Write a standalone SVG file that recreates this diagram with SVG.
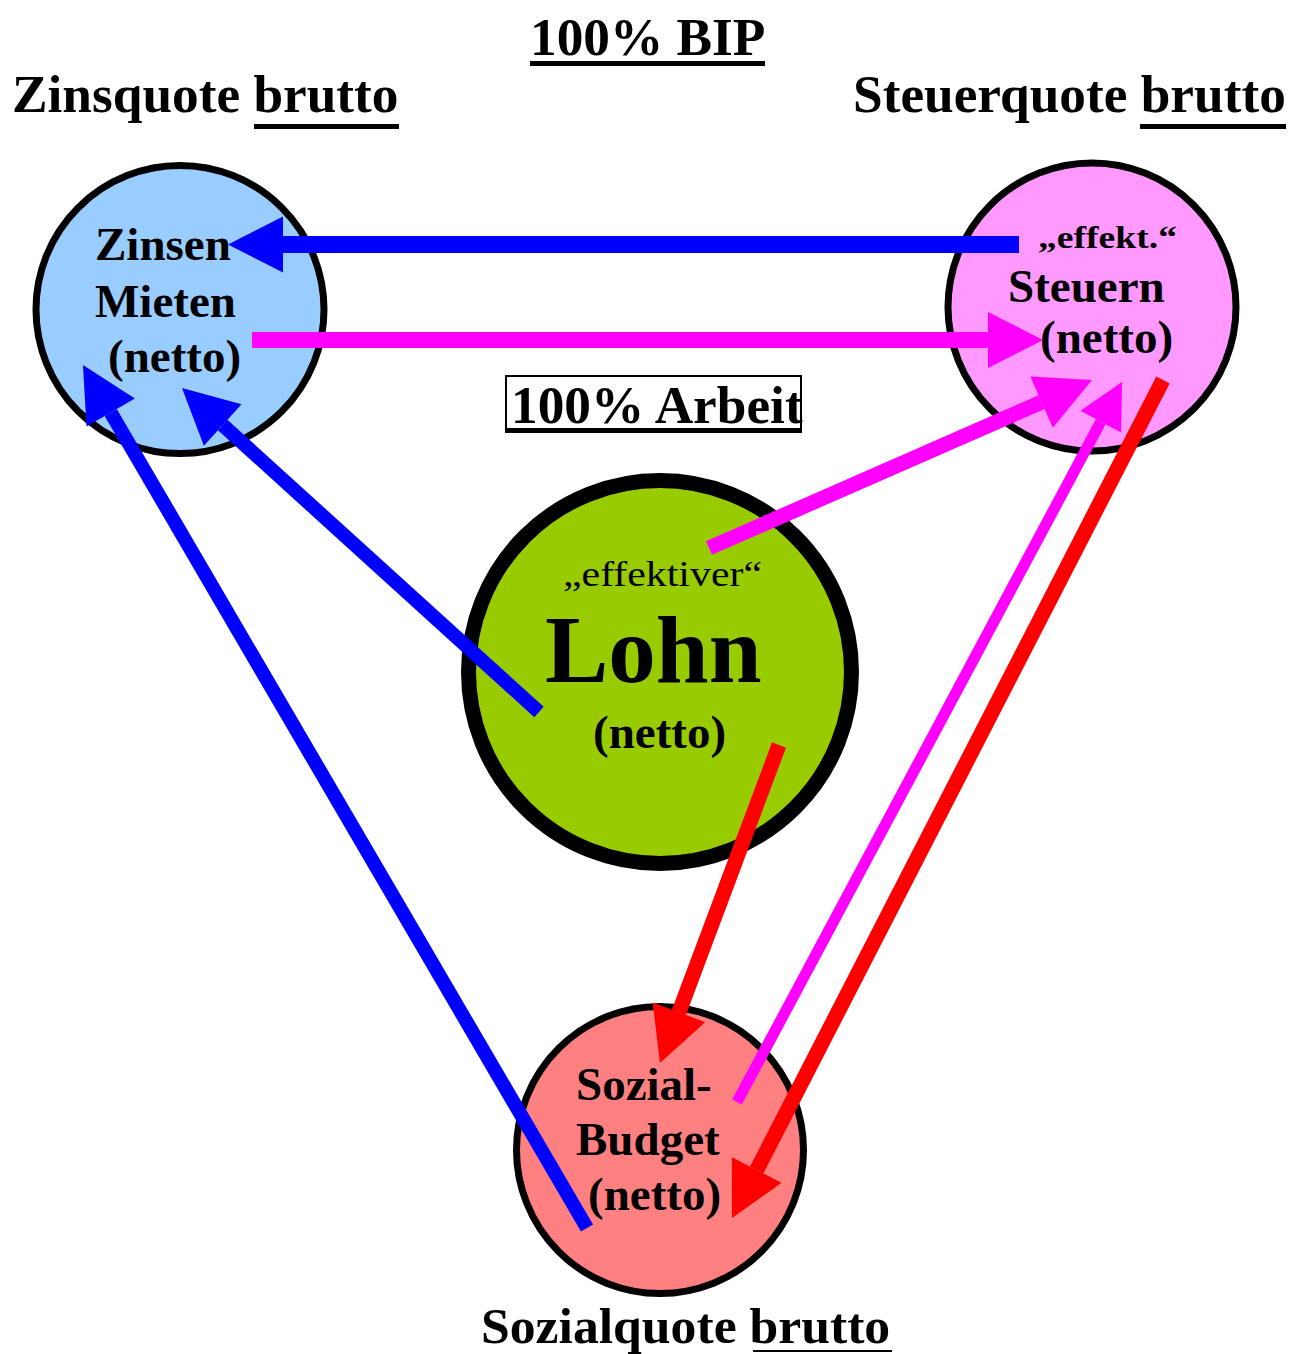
<svg xmlns="http://www.w3.org/2000/svg" width="1290" height="1354" viewBox="0 0 1290 1354">
<style>
  text { font-family: "Liberation Serif", "Times New Roman", serif; font-weight: bold; fill: #000; }
  .title { font-size: 53.3px; }
  .lbl { font-size: 47px; }
  .node { stroke: #000; stroke-width: 7; }
  .ul { fill: #000; }
  .cb { stroke: #0000FF; fill: none; }
  .cm { stroke: #FF00FF; fill: none; }
  .cr { stroke: #FF0000; fill: none; }
</style>
<defs>
  <marker id="hb" markerUnits="userSpaceOnUse" markerWidth="56" markerHeight="56" refX="0" refY="28" orient="auto" overflow="visible">
    <path d="M0,0 L55,28 L0,56 z" fill="#0000FF"/>
  </marker>
  <marker id="hm" markerUnits="userSpaceOnUse" markerWidth="56" markerHeight="56" refX="0" refY="28" orient="auto" overflow="visible">
    <path d="M0,0 L55,28 L0,56 z" fill="#FF00FF"/>
  </marker>
  <marker id="hms" markerUnits="userSpaceOnUse" markerWidth="46" markerHeight="46" refX="0" refY="23" orient="auto" overflow="visible">
    <path d="M0,0 L45,23 L0,46 z" fill="#FF00FF"/>
  </marker>
  <marker id="hr" markerUnits="userSpaceOnUse" markerWidth="56" markerHeight="56" refX="0" refY="28" orient="auto" overflow="visible">
    <path d="M0,0 L54,28 L0,56 z" fill="#FF0000"/>
  </marker>
</defs>
<rect x="0" y="0" width="1290" height="1354" fill="#FFFFFF"/>

<g id="titles">
  <text class="title" x="530" y="55">100% BIP</text>
  <rect class="ul" x="530" y="61" width="235" height="5"/>
  <text class="title" x="12" y="112">Zinsquote brutto</text>
  <rect class="ul" x="254" y="124" width="145" height="5"/>
  <text class="title" x="853" y="112">Steuerquote brutto</text>
  <rect class="ul" x="1140" y="124" width="146" height="5"/>
  <text class="title" x="481" y="1343" style="font-size:51.7px">Sozialquote brutto</text>
  <rect class="ul" x="753" y="1350" width="139" height="2"/>
</g>

<g id="arbeit">
  <rect x="506" y="376" width="295" height="54" fill="none" stroke="#000" stroke-width="2"/>
  <rect class="ul" x="505" y="428" width="297" height="5"/>
  <text class="title" x="511" y="423">100% Arbeit</text>
</g>

<g id="node-zinsen">
  <circle class="node" cx="180" cy="309.5" r="144" fill="#99CCFF"/>
  <text class="lbl" x="95" y="260">Zinsen</text>
  <text class="lbl" x="95" y="317">Mieten</text>
  <text class="lbl" x="108" y="372">(netto)</text>
</g>

<g id="node-steuern">
  <circle class="node" cx="1092" cy="307" r="144" fill="#FF99FF"/>
  <text x="1038" y="248" style="font-size:31px" textLength="139" lengthAdjust="spacingAndGlyphs">„effekt.“</text>
  <text class="lbl" x="1008" y="302">Steuern</text>
  <text class="lbl" x="1040" y="353">(netto)</text>
</g>

<g id="node-lohn">
  <circle cx="660" cy="672" r="191.5" fill="#99CC00" stroke="#000" stroke-width="15"/>
  <text x="563" y="586" style="font-size:36px;font-weight:normal" textLength="199" lengthAdjust="spacingAndGlyphs">„effektiver“</text>
  <text x="545" y="682" style="font-size:95px">Lohn</text>
  <text class="lbl" x="593" y="748">(netto)</text>
</g>

<g id="node-sozial">
  <circle class="node" cx="660" cy="1150" r="143.5" fill="#FF8080"/>
  <text class="lbl" x="576" y="1100">Sozial-</text>
  <text class="lbl" x="576" y="1155">Budget</text>
  <text class="lbl" x="588" y="1210">(netto)</text>
</g>

<g id="connectors">
  <line class="cb" x1="1019" y1="244.5" x2="283" y2="244.5" stroke-width="17" marker-end="url(#hb)"/>
  <line class="cm" x1="252" y1="340" x2="988" y2="340" stroke-width="16" marker-end="url(#hm)"/>
  <line class="cm" x1="709" y1="548" x2="1041.6" y2="402.1" stroke-width="15" marker-end="url(#hm)"/>
  <line class="cm" x1="737" y1="1102" x2="1100.8" y2="421.7" stroke-width="11" marker-end="url(#hms)"/>
  <line class="cr" x1="1163" y1="380" x2="756.7" y2="1170" stroke-width="15" marker-end="url(#hr)"/>
  <line class="cr" x1="779" y1="745" x2="678.9" y2="1012.4" stroke-width="15" marker-end="url(#hr)"/>
  <line class="cb" x1="539" y1="712" x2="222.7" y2="425" stroke-width="14" marker-end="url(#hb)"/>
  <line class="cb" x1="587" y1="1228" x2="110.7" y2="412.5" stroke-width="14" marker-end="url(#hb)"/>
</g>
</svg>
